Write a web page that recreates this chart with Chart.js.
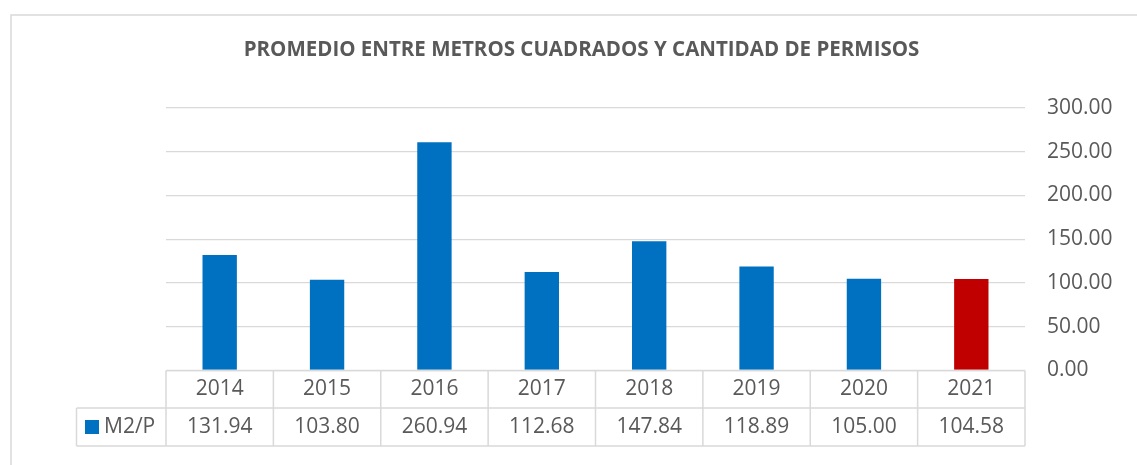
<!DOCTYPE html>
<html>
<head>
<meta charset="utf-8">
<script src="https://cdn.jsdelivr.net/npm/chart.js@4"></script>
<style>
  html, body { margin: 0; padding: 0; background: #fff; }
  #wrap { width: 1137px; height: 465px; position: relative; }
</style>
</head>
<body>
<div id="wrap"><canvas id="myChart"></canvas></div>
<script>
// #-------------- Chart data --------------#
const years  = ['2014', '2015', '2016', '2017', '2018', '2019', '2020', '2021'];
const m2PerPermit = [131.94, 103.80, 260.94, 112.68, 147.84, 118.89, 105.00, 104.58];
const seriesName = 'M2/P';
const yTicks = [0, 50, 100, 150, 200, 250, 300];
const chartTitle = 'PROMEDIO ENTRE METROS CUADRADOS Y CANTIDAD DE PERMISOS';

// Styling
const blue  = '#0070C0';
const red   = '#C00000';
const grey  = '#595959';
const lineGrey = '#D9D9D9';
const fontFamily = "'Open Sans', 'Noto Sans', sans-serif";
const textSize = 21;

// Last year is highlighted in red
const barColors = years.map((y, i) => i === years.length - 1 ? red : blue);

// Draws the outer frame, the title and the data table below the bars
const tablePlugin = {
    id: 'dataTable',
    afterDraw(chart) {
        const ctx = chart.ctx;
        const xs = chart.scales.x;
        const ys = chart.scales.y;
        const cw = (xs.right - xs.left) / years.length;
        const top = ys.bottom;
        const mid = top + 37.5;
        const bottom = top + 75.5;
        const legendLeft = 76.5;

        ctx.save();
        ctx.strokeStyle = lineGrey;
        ctx.lineWidth = 1.5;

        // outer frame (left and top)
        ctx.beginPath();
        ctx.moveTo(11, 465);
        ctx.lineTo(11, 15);
        ctx.lineTo(1137, 15);
        ctx.stroke();

        // title, centred on the whole frame
        ctx.fillStyle = grey;
        ctx.font = 'bold 20.5px ' + fontFamily;
        ctx.textAlign = 'center';
        ctx.textBaseline = 'middle';
        ctx.fillText(chartTitle, 581.5, 50);

        // table grid
        ctx.beginPath();
        ctx.moveTo(xs.left, top);
        ctx.lineTo(xs.right, top);
        ctx.moveTo(legendLeft, mid);
        ctx.lineTo(xs.right, mid);
        ctx.moveTo(legendLeft, bottom);
        ctx.lineTo(xs.right, bottom);
        ctx.moveTo(legendLeft, mid);
        ctx.lineTo(legendLeft, bottom);
        for (let i = 0; i <= years.length; i++) {
            const x = xs.left + i * cw;
            ctx.moveTo(x, top);
            ctx.lineTo(x, bottom);
        }
        ctx.stroke();

        // cell texts
        ctx.font = textSize + 'px ' + fontFamily;
        years.forEach((yr, i) => {
            const cx = xs.getPixelForValue(i);
            ctx.fillText(yr, cx, (top + mid) / 2);
            ctx.fillText(m2PerPermit[i].toFixed(2), cx, (mid + bottom) / 2);
        });

        // legend key in the first column
        ctx.fillStyle = blue;
        ctx.fillRect(85, (mid + bottom) / 2 - 7, 14, 14);
        ctx.fillStyle = grey;
        ctx.textAlign = 'left';
        ctx.fillText(seriesName, 104, (mid + bottom) / 2);
        ctx.restore();
    }
};

const chart = new Chart(document.getElementById('myChart'), {
    type: 'bar',
    data: {
        labels: years,
        datasets: [{
            label: seriesName,
            data: m2PerPermit,
            backgroundColor: barColors,
            barPercentage: 0.32,
            categoryPercentage: 1.0
        }]
    },
    options: {
        responsive: true,
        maintainAspectRatio: false,
        animation: false,
        layout: { padding: { left: 166, right: 0, top: 108, bottom: 94.5 } },
        plugins: {
            legend: { display: false },
            tooltip: { enabled: false },
            title: { display: false }
        },
        scales: {
            x: { display: false },
            y: {
                position: 'right',
                min: 0,
                max: 300,
                afterBuildTicks: scale => { scale.ticks = yTicks.map(v => ({ value: v })); },
                afterFit: scale => { scale.width = 112; },
                border: { display: false },
                grid: { color: lineGrey, lineWidth: 1.3, drawTicks: false },
                ticks: {
                    padding: 22,
                    color: grey,
                    font: { family: fontFamily, size: textSize },
                    callback: v => Number(v).toFixed(2)
                }
            }
        }
    },
    plugins: [tablePlugin]
});
</script>
</body>
</html>
